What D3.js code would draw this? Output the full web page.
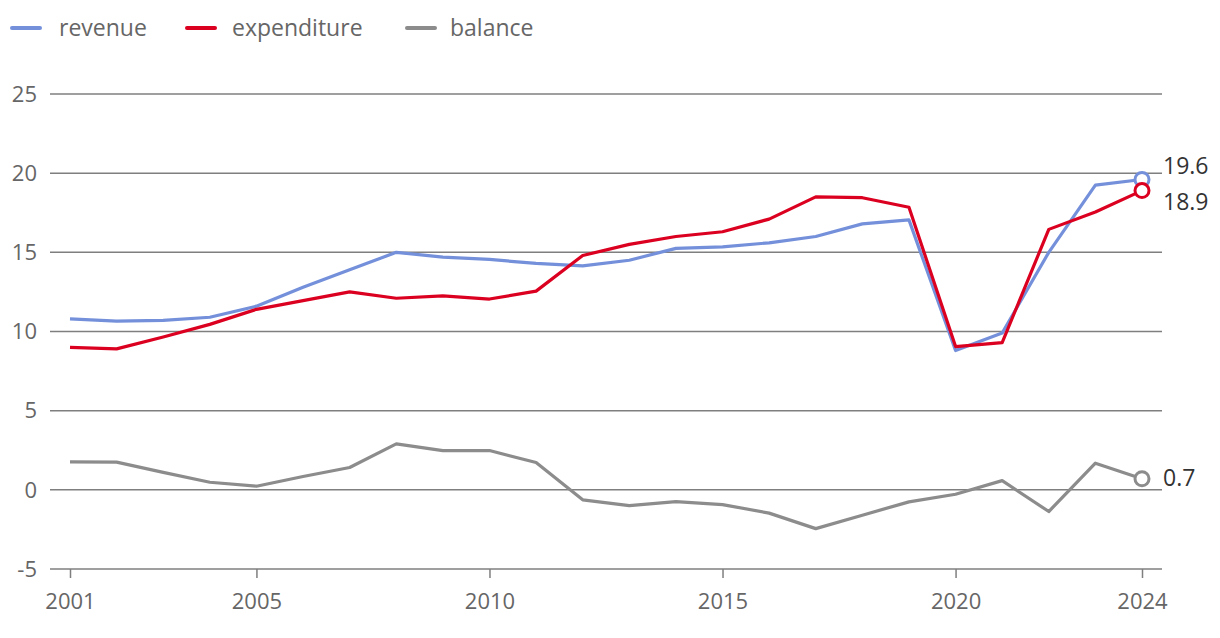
<!DOCTYPE html>
<html><head><meta charset="utf-8">
<script src="https://cdn.jsdelivr.net/npm/d3@7"></script>
<style>
html,body{margin:0;padding:0;background:#fff;}
svg{display:block;font-family:"Open Sans","Noto Sans",sans-serif;}
</style></head>
<body><svg id="c" width="1220" height="638"></svg>
<script>
const years = d3.range(2001, 2025);
const revenue = [10.8,10.65,10.7,10.9,11.6,12.8,13.9,15.0,14.7,14.55,14.3,14.15,14.5,15.25,15.35,15.6,16.0,16.8,17.05,8.8,9.9,15.0,19.25,19.6];
const expenditure = [9.0,8.9,9.65,10.45,11.4,11.95,12.5,12.1,12.25,12.05,12.55,14.8,15.5,16.0,16.3,17.1,18.5,18.45,17.85,9.05,9.3,16.45,17.55,18.9];
const balance = [1.77,1.75,1.1,0.48,0.23,0.84,1.41,2.9,2.48,2.48,1.73,-0.63,-1.0,-0.75,-0.93,-1.47,-2.45,-1.6,-0.76,-0.28,0.58,-1.37,1.68,0.7];
const seriesNames = ["revenue","expenditure","balance"];
const colors = ["#7490db","#dc0020","#8c8c8c"];
const yTicks = [-5,0,5,10,15,20,25];
const xTicks = [2001,2005,2010,2015,2020,2024];
const endLabelOffsets = [-14, 11, -1];

const svg = d3.select("#c");
const x = d3.scaleLinear().domain([2001,2024]).range([70,1142]);
const y = d3.scaleLinear().domain([-5,25]).range([569,94]);
const left = 50, right = 1162;

// grid
svg.append("g").selectAll("line").data(yTicks).join("line")
  .attr("x1",left).attr("x2",right)
  .attr("y1",d=>y(d)).attr("y2",d=>y(d))
  .attr("stroke","#7f7f7f").attr("stroke-width",1.5);
svg.append("g").selectAll("text").data(yTicks).join("text")
  .attr("x",37).attr("y",d=>y(d)).attr("dy","0.35em")
  .attr("text-anchor","end").attr("fill","#666").attr("font-size",22)
  .text(d=>d);

// x axis
const xAxis = d3.axisBottom(x).tickValues(xTicks).tickFormat(d3.format("d")).tickSize(9).tickPadding(15);
const gx = svg.append("g").attr("transform",`translate(0,${y(-5)})`).call(xAxis);
gx.select(".domain").remove();
gx.selectAll(".tick line").attr("stroke","#7f7f7f").attr("stroke-width",1.5);
gx.selectAll(".tick text").attr("fill","#666").attr("font-size",22).attr("font-family","'Open Sans','Noto Sans',sans-serif");

const data = [revenue, expenditure, balance];
const line = d3.line().x((d,i)=>x(years[i])).y(d=>y(d));
[2,0,1].forEach(k=>{
  svg.append("path").attr("d",line(data[k])).attr("fill","none")
    .attr("stroke",colors[k]).attr("stroke-width",3.2).attr("stroke-linejoin","round");
});
[2,0,1].forEach(k=>{
  const v = data[k][data[k].length-1];
  svg.append("circle").attr("cx",x(2024)).attr("cy",y(v)).attr("r",7)
    .attr("fill","#fff").attr("stroke",colors[k]).attr("stroke-width",3);
  svg.append("text").attr("x",x(2024)+21).attr("y",y(v)+endLabelOffsets[k]).attr("dy","0.35em")
    .attr("fill","#333").attr("font-size",23).text(d3.format(".1f")(v));
});

// legend
const legX = [12,187,407];
const legT = [59,232,450];
seriesNames.forEach((n,i)=>{
  svg.append("line").attr("x1",legX[i]).attr("x2",legX[i]+28).attr("y1",28).attr("y2",28)
    .attr("stroke",colors[i]).attr("stroke-width",4).attr("stroke-linecap","round");
  svg.append("text").attr("x",legT[i]).attr("y",28).attr("dy","0.35em")
    .attr("fill","#666").attr("font-size",23).text(n);
});
</script></body></html>
